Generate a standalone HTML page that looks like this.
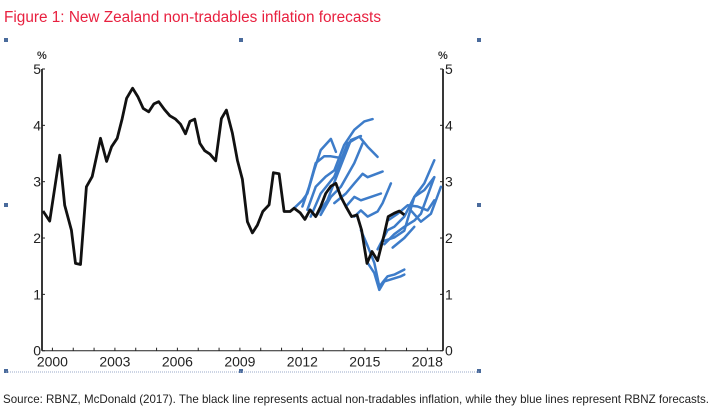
<!DOCTYPE html>
<html><head><meta charset="utf-8"><style>
html,body{margin:0;padding:0;background:#fff;}
svg{display:block;font-family:"Liberation Sans",Arial,sans-serif;}
</style></head><body>
<svg id="chart" width="716" height="416" viewBox="0 0 716 416">
<text x="4" y="22" font-size="15.5" fill="#e8203f" textLength="377" lengthAdjust="spacingAndGlyphs">Figure 1: New Zealand non-tradables inflation forecasts</text>
<g id="handles" fill="#4a6b9c"></g>
<line x1="6" y1="372" x2="479" y2="372" stroke="#9aa8c8" stroke-width="1" stroke-dasharray="1,1"/>
<g id="axes"></g>
<g id="series"></g>
<text x="3" y="403" font-size="12" fill="#222" textLength="706" lengthAdjust="spacingAndGlyphs">Source: RBNZ, McDonald (2017). The black line represents actual non-tradables inflation, while they blue lines represent RBNZ forecasts.</text>
</svg>
<script>
const yTicks = [0,1,2,3,4,5];
const xTickLabels = [2000,2003,2006,2009,2012,2015,2018];
const actualYears = [1999.55,1999.87,2000.35,2000.59,2000.91,2001.11,2001.35,2001.63,2001.91,2002.31,2002.60,2002.84,2003.11,2003.35,2003.56,2003.85,2004.10,2004.36,2004.62,2004.87,2005.10,2005.38,2005.64,2005.91,2006.15,2006.39,2006.60,2006.83,2007.08,2007.31,2007.56,2007.84,2008.11,2008.35,2008.64,2008.88,2009.12,2009.36,2009.60,2009.84,2010.10,2010.40,2010.61,2010.88,2011.12,2011.41,2011.60,2011.89,2012.12,2012.37,2012.64,2012.88,2013.12,2013.37,2013.61,2013.85,2014.09,2014.36,2014.62,2014.84,2015.10,2015.34,2015.61,2015.90,2016.12,2016.41,2016.65,2016.89];
const actualValues = [2.48,2.30,3.47,2.58,2.14,1.55,1.53,2.91,3.09,3.77,3.36,3.62,3.77,4.12,4.48,4.66,4.51,4.30,4.24,4.38,4.42,4.28,4.17,4.11,4.02,3.85,4.07,4.11,3.68,3.55,3.49,3.37,4.12,4.27,3.86,3.38,3.04,2.29,2.09,2.23,2.47,2.59,3.16,3.14,2.47,2.47,2.53,2.45,2.33,2.50,2.38,2.56,2.79,2.92,2.97,2.73,2.56,2.38,2.41,2.14,1.55,1.76,1.60,2.02,2.38,2.44,2.48,2.41];
const forecastYears = [
[2011.6,2012.0,2012.24,2012.56,2012.88,2013.37,2013.61],
[2012.0,2012.32,2012.64,2013.04,2013.37,2013.85],
[2012.24,2012.64,2013.12,2013.53,2014.0,2014.49,2014.97,2015.37],
[2012.40,2012.88,2013.53,2014.17,2014.73,2015.13,2015.61],
[2012.64,2013.2,2013.69,2014.33,2014.81],
[2012.88,2013.37,2013.85,2014.49,2014.89],
[2013.53,2014.09,2014.49,2014.89,2015.13,2015.85],
[2014.09,2014.49,2014.81,2015.29,2015.77],
[2014.49,2014.81,2015.13,2015.61,2015.85,2016.25],
[2014.81,2015.13,2015.45,2015.69,2016.09,2016.41,2016.89],
[2015.13,2015.45,2015.69,2015.93,2016.73,2016.89],
[2015.61,2016.09,2016.41,2016.89,2017.37,2017.85,2018.33],
[2015.93,2016.41,2016.89,2017.37,2017.69,2018.33],
[2016.09,2016.57,2017.05,2017.53,2018.01,2018.33],
[2016.33,2016.89,2017.37],
[2017.21,2017.69,2018.17,2018.65],
[2015.93,2016.41,2016.89,2017.37,2017.85,2018.33]
];
const forecastValues = [
[2.53,2.67,2.79,3.20,3.56,3.76,3.53],
[2.56,2.91,3.33,3.45,3.45,3.42],
[2.50,2.91,3.09,3.20,3.65,3.92,4.07,4.11],
[2.38,2.79,3.09,3.68,3.80,3.62,3.44],
[2.38,2.67,3.14,3.74,3.81],
[2.41,2.73,2.91,3.33,3.68],
[2.62,2.79,2.97,3.14,3.08,3.18],
[2.56,2.73,2.67,2.73,2.79],
[2.38,2.49,2.38,2.47,2.62,2.97],
[2.14,1.86,1.56,1.14,1.32,1.35,1.44],
[1.56,1.38,1.08,1.23,1.32,1.35],
[1.80,2.14,2.20,2.38,2.73,2.97,3.38],
[1.89,2.07,2.20,2.31,2.43,3.08],
[2.31,2.43,2.58,2.56,2.49,2.67],
[1.83,2.00,2.20],
[2.49,2.29,2.43,2.91],
[1.95,2.01,2.13,2.73,2.85,3.08]
];
const NS='http://www.w3.org/2000/svg';
const X0=42,X1=443,Y0=350.7,Y5=69;
const yearL=1999.5,yearR=2018.75;
function sx(y){return X0+(y-yearL)/(yearR-yearL)*(X1-X0);}
function sy(v){return Y0+(v-0)/(5-0)*(Y5-Y0);}
function mk(tag,attrs,parent){const e=document.createElementNS(NS,tag);for(const k in attrs)e.setAttribute(k,attrs[k]);parent.appendChild(e);return e;}
const axes=document.getElementById('axes');
const series=document.getElementById('series');
const handles=document.getElementById('handles');
[[6,40],[241,40],[479,40],[6,205],[479,205],[6,371],[241,371],[479,371]].forEach(p=>{
  const r=mk('rect',{x:p[0]-2,y:p[1]-2,width:4,height:4},handles);
  
  
});
const la=mk('line',{x1:X0,y1:Y5,x2:X0,y2:Y0,stroke:'#222','stroke-width':1.8},axes);


const ra=mk('line',{x1:X1,y1:Y5,x2:X1,y2:Y0,stroke:'#222','stroke-width':1.8},axes);


const ba=mk('line',{x1:X0,y1:Y0,x2:X1,y2:Y0,stroke:'#222','stroke-width':1},axes);


yTicks.forEach(v=>{
  const y=sy(v);
  const t1=mk('line',{x1:X0,y1:y,x2:X0+3,y2:y,stroke:'#222'},axes);
  
  
  const t2=mk('line',{x1:X1-3,y1:y,x2:X1,y2:y,stroke:'#222'},axes);
  
  
  const l=mk('text',{x:X0-1,y:y+5,'font-size':14,'text-anchor':'end',fill:'#222'},axes);
  l.textContent=v;
  
  
  const r=mk('text',{x:X1+2,y:y+5,'font-size':14,fill:'#222'},axes);
  r.textContent=v;
  
  
});
['left','right'].forEach((s,i)=>{
  const p=mk('text',{x:i?X1-5:X0-5,y:59,'font-size':11,'font-weight':'bold',fill:'#333'},axes);
  p.textContent='%';
  
  
});
for(let yr=2000;yr<=2018;yr++){
  const x=sx(yr);
  const t=mk('line',{x1:x,y1:Y0,x2:x,y2:Y0-3,stroke:'#222'},axes);
  
  
}
xTickLabels.forEach(yr=>{
  const l=mk('text',{x:sx(yr),y:Y0+16,'font-size':14,'text-anchor':'middle',fill:'#222'},axes);
  l.textContent=yr;
  
  
});
function pathOf(xs,vs){return xs.map((x,i)=>(i?'L':'M')+sx(x).toFixed(1)+','+sy(vs[i]).toFixed(1)).join(' ');}
forecastYears.forEach((xs,i)=>{
  const p=mk('path',{d:pathOf(xs,forecastValues[i]),fill:'none',stroke:'#3d7cc9','stroke-width':2.5,'stroke-linejoin':'round','stroke-linecap':'round'},series);
  
  
});
const a=mk('path',{d:pathOf(actualYears,actualValues),fill:'none',stroke:'#111','stroke-width':2.8,'stroke-linejoin':'round'},series);


</script>
</body></html>
